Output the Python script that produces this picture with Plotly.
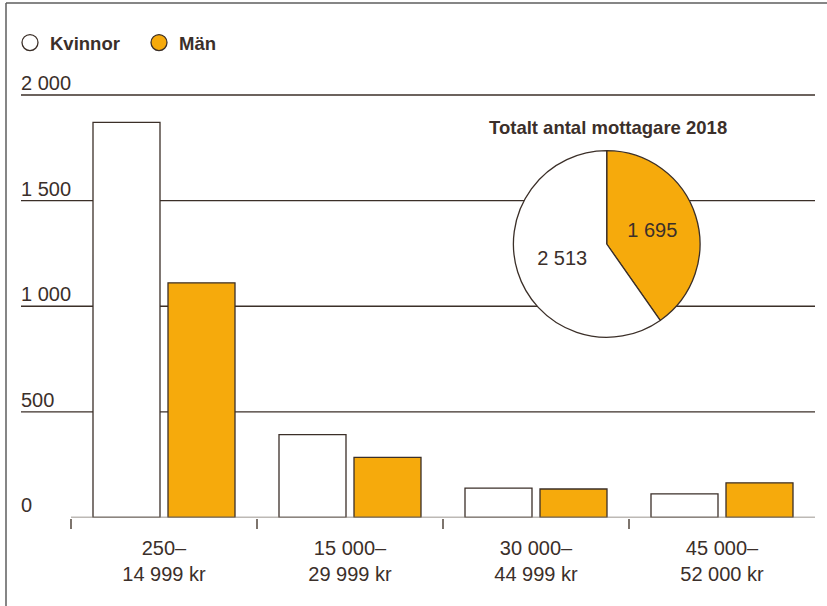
import plotly.graph_objects as go

# ---- data ----
categories = ["250–<br>14 999 kr", "15 000–<br>29 999 kr", "30 000–<br>44 999 kr", "45 000–<br>52 000 kr"]
kvinnor = [1870, 392, 139, 112]
man = [1111, 285, 135, 164]
pie_labels = ["Män", "Kvinnor"]
pie_values = [1695, 2513]
pie_text = ["1 695", "2 513"]
y_tickvals = [0, 500, 1000, 1500, 2000]
y_ticktext = ["0", "500", "1 000", "1 500", "2 000"]
series_names = ["Kvinnor", "Män"]
pie_title = "Totalt antal mottagare 2018"

# ---- style ----
W, H = 827, 606
ORANGE = "#F6AA0C"
DARK = "#3b2f28"
TEXT = "#3b2f2a"
AXIS = "#7d746d"
FONT = "Liberation Sans, Arial, sans-serif"

def px(x):
    return x / W

def py(y):
    return 1 - y / H

plot_l, plot_r = 21, 815
cat_w = 186
x_right = len(categories) - 0.5
x_left = x_right - (plot_r - plot_l) / cat_w
y0_px = 517.5
unit = 422.5 / 2000
y_max = 2250
top_px = y0_px - y_max * unit

fig = go.Figure()

fig.add_trace(go.Bar(
    x=categories, y=kvinnor, name=series_names[0],
    marker=dict(color="white", line=dict(color=DARK, width=1.3)),
    showlegend=False, hoverinfo="skip"))
fig.add_trace(go.Bar(
    x=categories, y=man, name=series_names[1],
    marker=dict(color=ORANGE, line=dict(color=DARK, width=1.3)),
    showlegend=False, hoverinfo="skip"))

# legend entries
for name, col in zip(series_names, ["white", ORANGE]):
    fig.add_trace(go.Scatter(
        x=[None], y=[None], mode="markers", name=name,
        marker=dict(symbol="circle", size=16, color=col, line=dict(color=DARK, width=1.3)),
        showlegend=True))

fig.add_trace(go.Pie(
    labels=pie_labels, values=pie_values, text=pie_text, textinfo="text",
    sort=False, direction="clockwise", rotation=0,
    marker=dict(colors=[ORANGE, "white"], line=dict(color=DARK, width=1.3)),
    textfont=dict(family=FONT, size=20, color=TEXT),
    insidetextorientation="horizontal", textposition="inside",
    domain=dict(x=[px(513.4), px(700)], y=[py(337.3), py(150.7)]),
    showlegend=False, hoverinfo="skip"))

shapes = []
for v in y_tickvals:
    if v > 0:
        shapes.append(dict(type="line", xref="x domain", yref="y", x0=0, x1=1, y0=v, y1=v,
                           line=dict(color=DARK, width=1.3), layer="below"))
shapes.append(dict(type="line", xref="x", yref="y", x0=-0.5, x1=x_right, y0=0, y1=0,
                   line=dict(color=AXIS, width=1.5), layer="above"))
# frame
shapes.append(dict(type="line", xref="paper", yref="paper", x0=px(6), x1=1, y0=py(3), y1=py(3),
                   line=dict(color="#5e5e5e", width=1.5)))
shapes.append(dict(type="line", xref="paper", yref="paper", x0=px(6), x1=px(6), y0=py(3), y1=0,
                   line=dict(color="#5e5e5e", width=1.5)))

annotations = [dict(text="<b>" + pie_title + "</b>", xref="paper", yref="paper",
                    x=px(607.5), y=py(127), xanchor="center", yanchor="middle", showarrow=False,
                    font=dict(family=FONT, size=18.5, color=TEXT))]
for v, t in zip(y_tickvals, y_ticktext):
    annotations.append(dict(text=t, xref="x domain", yref="y", x=0, y=v,
                            xanchor="left", yanchor="bottom", xshift=-2, yshift=-1,
                            showarrow=False, font=dict(family=FONT, size=20, color=TEXT)))

fig.update_layout(
    width=W, height=H,
    margin=dict(l=0, r=0, t=0, b=0),
    paper_bgcolor="white", plot_bgcolor="white",
    font=dict(family=FONT, size=20, color=TEXT),
    barmode="group", bargap=36 / 186, bargroupgap=8 / 75,
    shapes=shapes,
    annotations=annotations,
    legend=dict(orientation="h", x=px(10), y=py(43), xanchor="left", yanchor="middle",
                entrywidth=84, entrywidthmode="pixels",
                font=dict(family=FONT, size=18.5, color=TEXT, weight="bold"),
                bgcolor="rgba(0,0,0,0)", itemclick=False, itemdoubleclick=False),
    xaxis=dict(type="category", domain=[px(plot_l), px(plot_r)], range=[x_left, x_right],
               tickson="boundaries", ticks="outside", ticklen=10, tickwidth=1.5, tickcolor=AXIS,
               ticklabelstandoff=16,
               showline=False, showgrid=False, zeroline=False,
               tickfont=dict(family=FONT, size=20, color=TEXT)),
    yaxis=dict(domain=[py(y0_px), py(top_px)], range=[0, y_max],
               showticklabels=False, ticks="", showgrid=False, zeroline=False,
               showline=False),
)

fig.write_html("out.html", config={"displayModeBar": False},
               post_script="document.body.style.margin='0';document.body.style.overflow='hidden';")
